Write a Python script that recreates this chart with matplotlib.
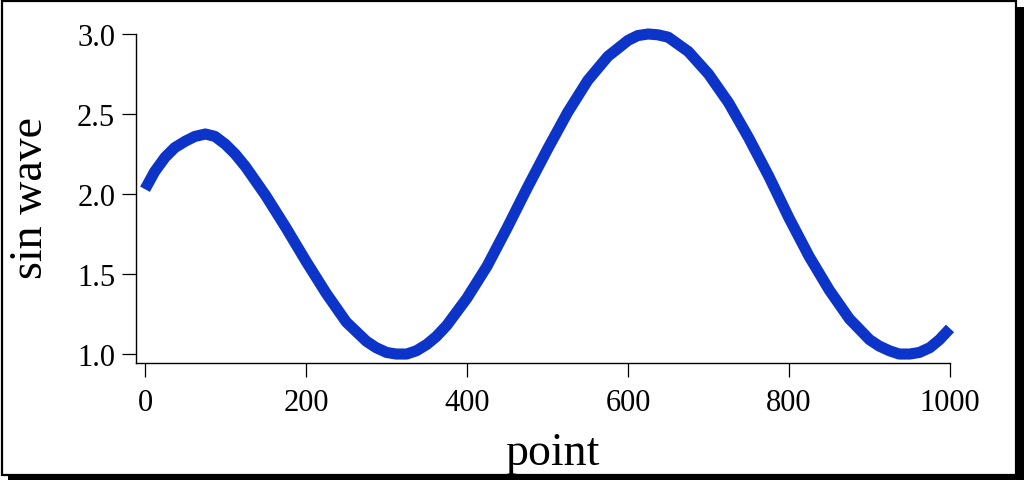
import numpy as np
import matplotlib
matplotlib.use("Agg")
import matplotlib.pyplot as plt
from matplotlib.patches import Rectangle

# values
point = [0, 12, 25, 37, 50, 62, 75, 87, 100, 112, 125, 150, 175, 200, 225,
         250, 275, 287, 300, 312, 325, 337, 350, 362, 375, 400, 425, 450,
         475, 500, 525, 550, 575, 600, 612, 625, 637, 650, 675, 700, 725,
         750, 775, 800, 825, 850, 875, 900, 912, 925, 937, 950, 962, 975,
         987, 1000]
sin_wave = [2.03, 2.14, 2.23, 2.29, 2.33, 2.36, 2.375, 2.36, 2.31, 2.25,
            2.17, 1.99, 1.79, 1.58, 1.38, 1.20, 1.08, 1.04, 1.01, 1.00,
            1.00, 1.02, 1.06, 1.11, 1.18, 1.35, 1.55, 1.79, 2.04, 2.28,
            2.51, 2.71, 2.86, 2.96, 2.99, 3.00, 2.995, 2.98, 2.89, 2.75,
            2.57, 2.35, 2.11, 1.85, 1.61, 1.40, 1.22, 1.09, 1.05, 1.02,
            1.00, 1.00, 1.01, 1.04, 1.09, 1.16]
xticks = [0, 200, 400, 600, 800, 1000]
yticks = [1.0, 1.5, 2.0, 2.5, 3.0]

plt.rcParams['font.family'] = ['Liberation Serif', 'DejaVu Serif']

W, H = 1024, 481
fig = plt.figure(figsize=(W / 100, H / 100), dpi=100)
ax = fig.add_axes([136 / W, 1 - 364 / H, (950 - 136) / W, (364 - 35) / H])

ax.plot(point, sin_wave, color='#0c34c8', lw=8, solid_capstyle='butt',
        solid_joinstyle='round', clip_on=False)

ax.set_xlim(-11.2, 1000)
ax.set_ylim(0.944, 3.0)
ax.set_xticks(xticks)
ax.set_yticks(yticks)
ax.set_yticklabels([f"{v:.1f}" for v in yticks])
for s in ['top', 'right']:
    ax.spines[s].set_visible(False)
for s in ['left', 'bottom']:
    ax.spines[s].set_linewidth(1.0)
ax.tick_params(direction='out', length=10, width=0.9, labelsize=22, pad=5)
ax.tick_params(axis='x', pad=8)

fig.text(552 / W, 1 - 465 / H, 'point', fontsize=33, ha='center', va='baseline')
fig.text(42 / W, 1 - 198 / H, 'sin wave', fontsize=33, rotation=90,
         rotation_mode='anchor', ha='center', va='baseline')

# frame with drop shadow
fig.add_artist(Rectangle((2 / W, 5 / H), 1014 / W, 474 / H, transform=fig.transFigure,
                         fill=False, ec='black', lw=1.6))
fig.add_artist(Rectangle((8 / W, 0), (W - 8) / W, 6 / H, transform=fig.transFigure,
                         fc='black', ec='none'))
fig.add_artist(Rectangle((1017 / W, 0), 7 / W, (H - 8) / H, transform=fig.transFigure,
                         fc='black', ec='none'))

fig.savefig('out.png', dpi=100)
